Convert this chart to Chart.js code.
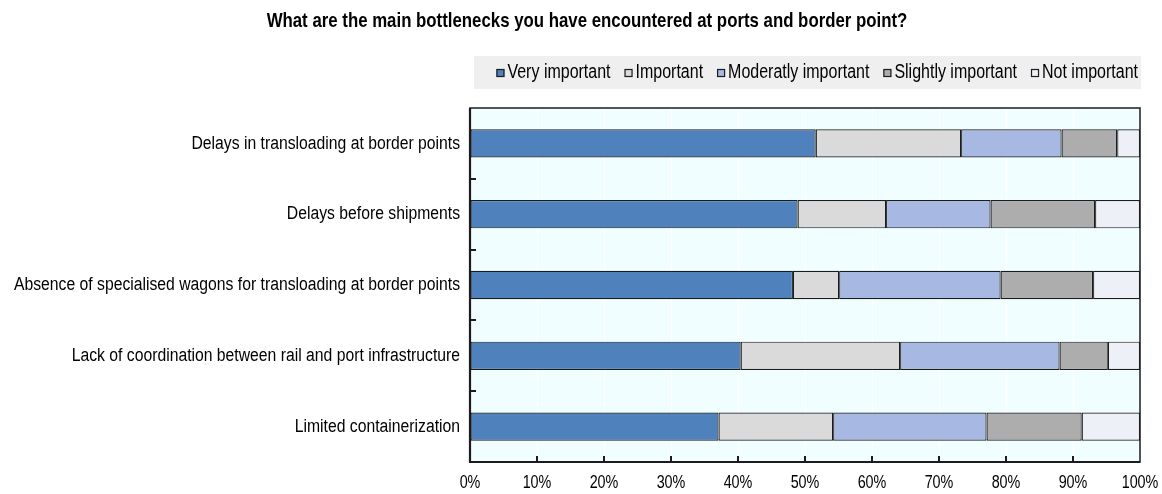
<!DOCTYPE html>
<html><head><meta charset="utf-8">
<script src="https://cdn.jsdelivr.net/npm/chart.js@4.4.1/dist/chart.umd.min.js"></script>
<style>html,body{margin:0;padding:0;background:#fff}#wrap{width:1162px;height:494px;position:relative}</style>
</head><body><div id="wrap"><canvas id="c" width="1162" height="494"></canvas></div>
<script>
const titleText = "What are the main bottlenecks you have encountered at ports and border point?";
const categories = ["Delays in transloading at border points","Delays before shipments","Absence of specialised wagons for transloading at border points","Lack of coordination between rail and port infrastructure","Limited containerization"];
const seriesNames = ["Very important","Important","Moderatly important","Slightly important","Not important"];
const veryImportant = [51.6, 48.9, 48.2, 40.4, 37.1];
const important = [21.7, 13.2, 6.9, 23.8, 17.1];
const moderatelyImportant = [15.0, 15.6, 24.1, 23.8, 22.9];
const slightlyImportant = [8.3, 15.6, 13.8, 7.2, 14.2];
const notImportant = [3.4, 6.7, 7.0, 4.8, 8.7];
const tickValues = [0,10,20,30,40,50,60,70,80,90,100];
const seriesColors = ["#4F81BD","#DADADA","#A7B9E3","#ADADAD","#EEF0F8"];

const FONT = '"Liberation Sans", Arial, sans-serif';
const NARROW = 0.82;          // horizontal condensing (Arial Narrow look)
const EDGE = '#1c1c1c';

const seriesData = [veryImportant, important, moderatelyImportant, slightlyImportant, notImportant];

function narrowText(ctx, text, x, y, align) {
  ctx.save();
  ctx.translate(x, y);
  ctx.scale(NARROW, 1);
  ctx.textAlign = align;
  ctx.fillText(text, 0, 0);
  ctx.restore();
}
function narrowWidth(ctx, text) { return ctx.measureText(text).width * NARROW; }

const framePlugin = {
  id: 'frame',
  beforeDraw(chart) {
    const {ctx, chartArea: a} = chart;
    ctx.save();
    ctx.fillStyle = '#F1FEFF';
    ctx.fillRect(a.left, a.top, a.right - a.left, a.bottom - a.top);
    ctx.restore();
  },
  afterDraw(chart) {
    const {ctx, chartArea: a} = chart;
    const xs = chart.scales.x, ys = chart.scales.y;
    ctx.save();
    ctx.strokeStyle = EDGE;
    // frame
    ctx.lineWidth = 1.5;
    ctx.strokeRect(a.left, a.top, a.right - a.left, a.bottom - a.top);
    ctx.lineWidth = 2.2;
    ctx.beginPath();
    ctx.moveTo(a.left, a.top); ctx.lineTo(a.left, a.bottom); ctx.lineTo(a.right, a.bottom);
    ctx.stroke();
    // inward x ticks
    ctx.lineWidth = 2;
    ctx.beginPath();
    tickValues.forEach(v => {
      if (v === xs.min || v === xs.max) return;
      const px = Math.round(xs.getPixelForValue(v));
      ctx.moveTo(px, a.bottom); ctx.lineTo(px, a.bottom - 6);
    });
    // inward y ticks at category boundaries
    for (let i = 0; i < categories.length - 1; i++) {
      const py = Math.round((ys.getPixelForValue(i) + ys.getPixelForValue(i + 1)) / 2);
      ctx.moveTo(a.left, py); ctx.lineTo(a.left + 6, py);
    }
    ctx.stroke();

    ctx.fillStyle = '#000';
    ctx.textBaseline = 'middle';
    // x tick labels
    ctx.font = '17.5px ' + FONT;
    tickValues.forEach(v => narrowText(ctx, v + '%', xs.getPixelForValue(v), 483, 'center'));
    // y tick labels
    ctx.font = '19.2px ' + FONT;
    categories.forEach((c, i) => narrowText(ctx, c, a.left - 10, ys.getPixelForValue(i), 'right'));
    // title
    ctx.font = 'bold 20.5px ' + FONT;
    narrowText(ctx, titleText, 587, 21, 'center');
    // legend
    const lgTop = 56, lgBot = 89;
    ctx.fillStyle = '#EFEFEF';
    ctx.fillRect(a.left + 4, lgTop, a.right - a.left - 3, lgBot - lgTop);
    ctx.font = '19.5px ' + FONT;
    const box = 8, gapBox = 3, gapItem = 14;
    const widths = seriesNames.map(n => narrowWidth(ctx, n));
    let total = 0;
    widths.forEach((w, i) => { total += box + gapBox + w + (i ? gapItem : 0); });
    let x = a.right - 2 - total;
    const cy = (lgTop + lgBot) / 2 + 0.5;
    seriesNames.forEach((n, i) => {
      ctx.fillStyle = seriesColors[i];
      ctx.fillRect(x, cy - box / 2, box, box);
      ctx.lineWidth = 1.2;
      ctx.strokeStyle = EDGE;
      ctx.strokeRect(x + 0.5, cy - box / 2 + 0.5, box - 1, box - 1);
      ctx.fillStyle = '#000';
      narrowText(ctx, n, x + box + gapBox, cy, 'left');
      x += box + gapBox + widths[i] + gapItem;
    });
    ctx.restore();
  }
};

new Chart(document.getElementById('c'), {
  type: 'bar',
  data: {
    labels: categories,
    datasets: seriesNames.map((n, i) => ({
      label: n,
      data: seriesData[i],
      backgroundColor: seriesColors[i],
      borderColor: EDGE,
      borderWidth: 1.2,
      borderSkipped: false,
      barPercentage: 0.4,
      categoryPercentage: 1
    }))
  },
  options: {
    indexAxis: 'y',
    responsive: false,
    animation: false,
    layout: { padding: { top: 108, right: 22, left: 0, bottom: 0 } },
    plugins: { legend: { display: false }, title: { display: false }, tooltip: { enabled: false } },
    scales: {
      x: {
        stacked: true, min: 0, max: 100,
        afterBuildTicks(scale) { scale.ticks = tickValues.map(v => ({ value: v })); },
        ticks: { display: false },
        grid: { color: '#FFFFFF', lineWidth: 1, drawTicks: false },
        border: { display: false },
        afterFit(scale) { scale.height = 32; }
      },
      y: {
        stacked: true,
        ticks: { display: false },
        grid: { display: false, drawTicks: false },
        border: { display: false },
        afterFit(scale) { scale.width = 470; }
      }
    }
  },
  plugins: [framePlugin]
});
</script>
</body></html>
